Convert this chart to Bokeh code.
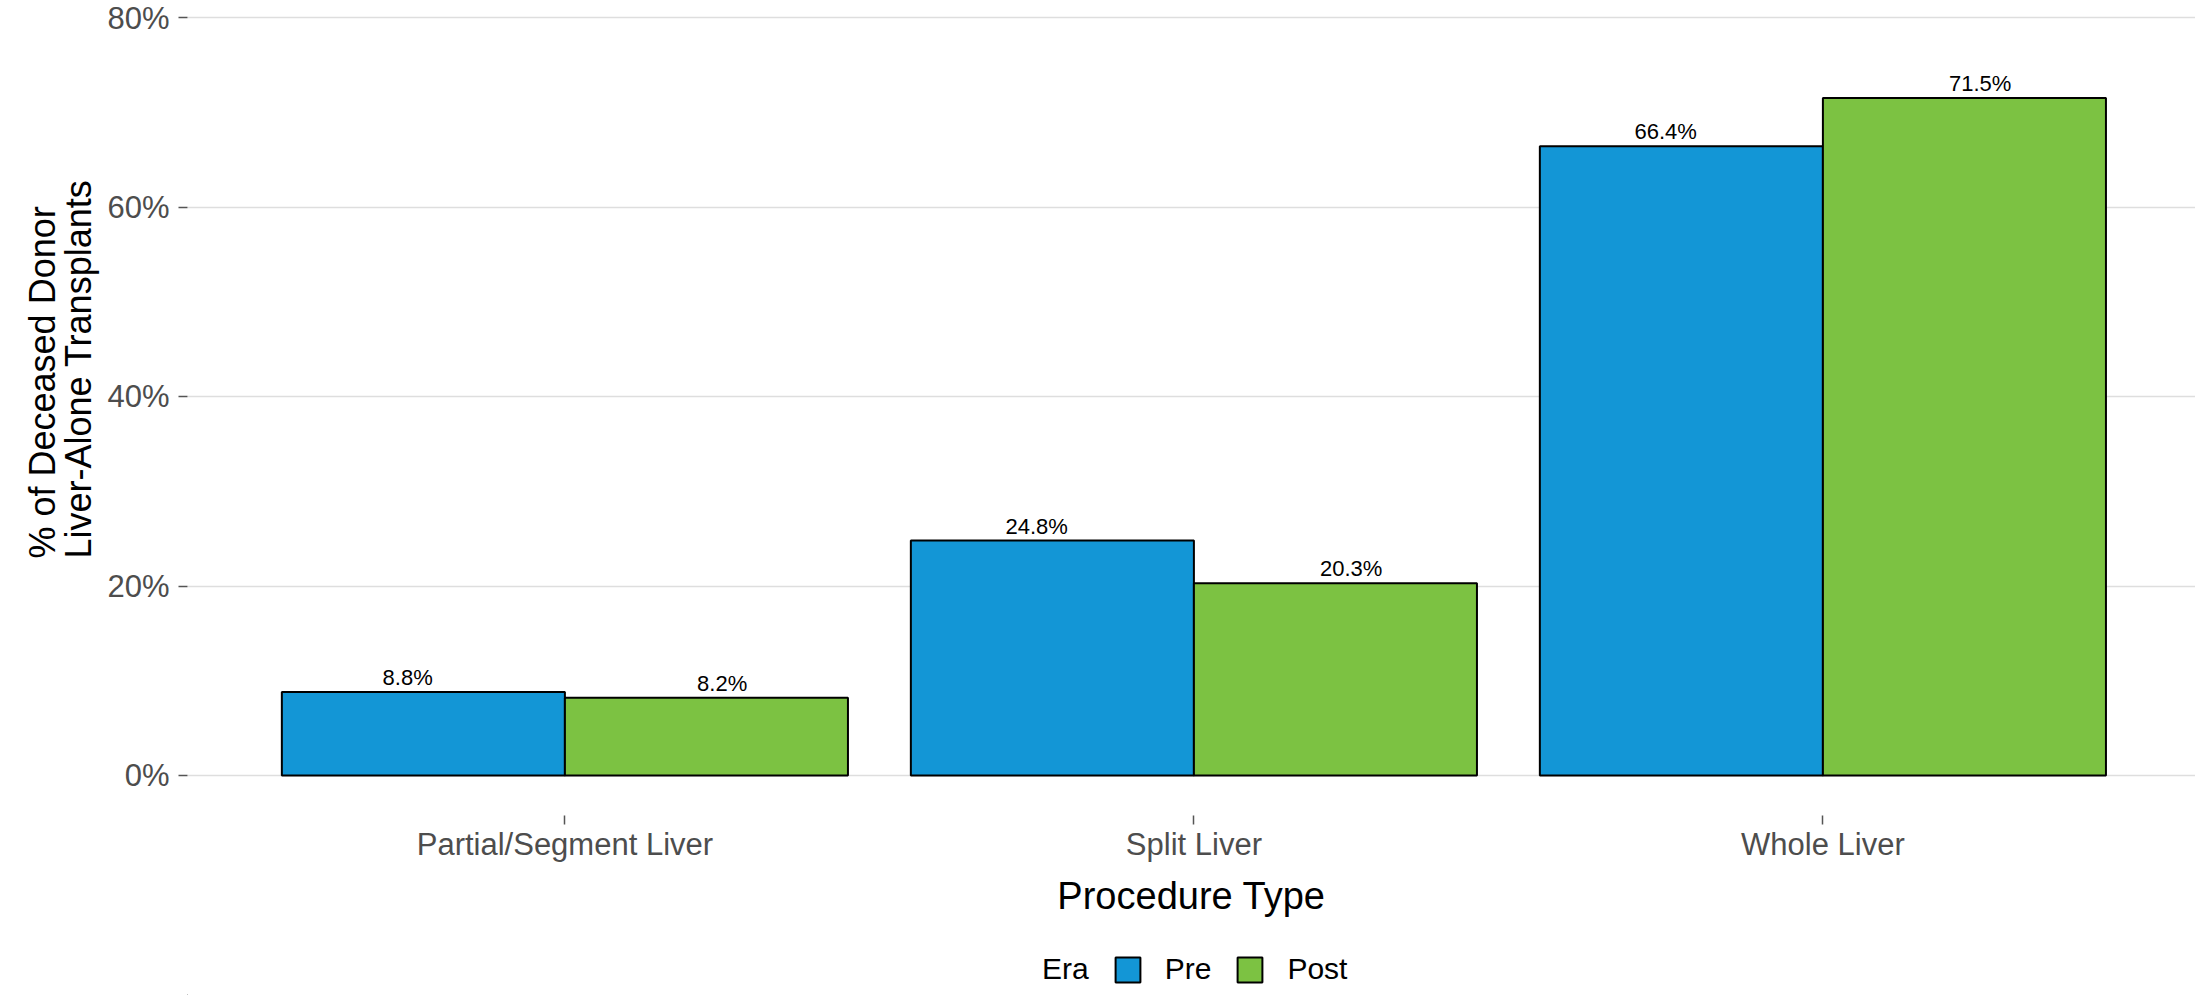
import numpy as np
from bokeh.plotting import figure
from bokeh.layouts import column
from bokeh.models import (ColumnDataSource, FixedTicker, PrintfTickFormatter,
                          Legend, LegendItem, Range1d, Title)
from bokeh.core.properties import value
from bokeh.embed import file_html
from bokeh.resources import INLINE

# ---------------- data ----------------
categories = ["Partial/Segment Liver", "Split Liver", "Whole Liver"]
eras = ["Pre", "Post"]
pre_values = [8.8, 24.8, 66.4]
post_values = [8.2, 20.3, 71.5]
y_ticks = [0, 20, 40, 60, 80]
era_colors = ["#1396D6", "#7CC242"]

# ---------------- layout constants ----------------
W = 2195
MAIN_H = 945
LEG_H = 50
FRAME_LEFT = 187
FRAME_W = W - FRAME_LEFT
FRAME_H = 815
PX_PER_CAT = 629.0
PX_PER_PCT = 9.475
ZERO_FROM_BOTTOM = 40.0
FONT = "Liberation Sans"

x_start = 0.4
x_end = x_start + FRAME_W / PX_PER_CAT
y_start = -ZERO_FROM_BOTTOM / PX_PER_PCT
y_end = y_start + FRAME_H / PX_PER_PCT

idx = np.arange(1, len(categories) + 1)
bar_w = 0.45      # dodge width 0.9 for the bars
label_dodge = 0.25  # labels dodged with width 1.0
src_pre = ColumnDataSource(dict(x=idx - bar_w / 2, top=pre_values,
                                lx=idx - label_dodge,
                                lab=[f"{v:.1f}%" for v in pre_values]))
src_post = ColumnDataSource(dict(x=idx + bar_w / 2, top=post_values,
                                 lx=idx + label_dodge,
                                 lab=[f"{v:.1f}%" for v in post_values]))

p = figure(width=W, height=MAIN_H, output_backend="svg", toolbar_location=None,
           x_range=Range1d(x_start, x_end), y_range=Range1d(y_start, y_end),
           min_border_left=FRAME_LEFT, min_border_right=0, min_border_top=0,
           min_border_bottom=MAIN_H - FRAME_H)
p.outline_line_color = None
p.background_fill_color = "white"
p.border_fill_color = "white"

p.vbar(x="x", top="top", width=bar_w, bottom=0, source=src_pre,
       fill_color=era_colors[0], line_color="black", line_width=2)
p.vbar(x="x", top="top", width=bar_w, bottom=0, source=src_post,
       fill_color=era_colors[1], line_color="black", line_width=2)

for s in (src_pre, src_post):
    p.text(x="lx", y="top", text="lab", source=s, text_align="center",
           text_baseline="bottom", y_offset=-2, text_color="black",
           text_font=value(FONT), text_font_size="22px")

# axes
p.xaxis.ticker = FixedTicker(ticks=list(idx))
p.xaxis.major_label_overrides = {int(i): c for i, c in zip(idx, categories)}
p.xaxis.axis_label = "Procedure Type"
p.yaxis.ticker = FixedTicker(ticks=y_ticks)
p.yaxis.formatter = PrintfTickFormatter(format="%d%%")
for ax in (p.xaxis[0], p.yaxis[0]):
    ax.axis_line_color = None
    ax.major_tick_in = 0
    ax.major_tick_out = 9
    ax.major_tick_line_color = "#555555"
    ax.major_tick_line_width = 1.5
    ax.minor_tick_line_color = None
    ax.major_label_text_font = FONT
    ax.major_label_text_font_size = "31px"
    ax.major_label_text_color = "#4D4D4D"
    ax.axis_label_text_font = FONT
    ax.axis_label_text_font_style = "normal"
    ax.axis_label_text_color = "black"
p.xaxis.major_label_standoff = 2
p.xaxis.axis_label_text_font_size = "38px"
p.xaxis.axis_label_standoff = 10
p.yaxis.major_label_standoff = 9

p.xgrid.grid_line_color = None
p.ygrid.grid_line_color = "#DEDEDE"
p.ygrid.grid_line_width = 1.5

# y axis title (two lines) placed in the left panel
ytitle = Title(text="% of Deceased Donor\nLiver-Alone Transplants", align="left",
               offset=257, standoff=11, text_font=FONT, text_font_size="36px",
               text_font_style="normal", text_color="black", text_line_height=0.87)
p.add_layout(ytitle, "left")

# ---------------- legend strip ----------------
lg = figure(width=W, height=LEG_H, output_backend="svg", toolbar_location=None,
            x_range=Range1d(0, 1), y_range=Range1d(0, 1),
            x_axis_location=None, y_axis_location=None,
            min_border_left=0, min_border_right=0, min_border_top=0,
            min_border_bottom=0)
lg.grid.visible = False
lg.outline_line_color = None
lg.border_fill_color = "white"
lg.background_fill_color = "white"
r_blank = lg.vbar(x=[-5], top=[0], width=0.1, fill_alpha=0, line_alpha=0)
r_pre = lg.vbar(x=[-5], top=[0], width=0.1, fill_color=era_colors[0],
                line_color="black", line_width=2)
r_post = lg.vbar(x=[-5], top=[0], width=0.1, fill_color=era_colors[1],
                 line_color="black", line_width=2)

legend = Legend(items=[LegendItem(label="Era", renderers=[r_blank]),
                       LegendItem(label=eras[0], renderers=[r_pre]),
                       LegendItem(label=eras[1], renderers=[r_post])],
                orientation="horizontal",
                glyph_width=31, glyph_height=31, label_standoff=22, spacing=23,
                padding=0, margin=0,
                border_line_color=None, background_fill_alpha=0,
                label_text_font=FONT, label_text_font_size="30px",
                label_text_color="black",
                location=(802, 9))
lg.add_layout(legend)

open("out.html", "w").write(file_html(column(p, lg), INLINE))
